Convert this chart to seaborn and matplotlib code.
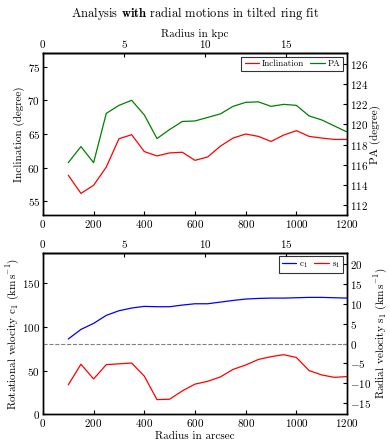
import matplotlib
matplotlib.use("Agg")
import matplotlib.pyplot as plt
import seaborn as sb
import pandas as pd
import numpy as np

# ring radii in arcsec
radius = [100, 150, 200, 250, 300, 350, 400, 450, 500, 550, 600, 650,
          700, 750, 800, 850, 900, 950, 1000, 1050, 1100, 1150, 1200]
inclination = [58.9, 56.2, 57.4, 60.1, 64.3, 64.9, 62.4, 61.75, 62.2, 62.3, 61.1, 61.6,
               63.2, 64.4, 65.0, 64.65, 63.9, 64.85, 65.5, 64.65, 64.4, 64.2, 64.2]
pa = [116.2, 117.8, 116.2, 121.1, 121.9, 122.4, 120.95, 118.6, 119.5, 120.3, 120.35, 120.7,
      121.05, 121.8, 122.2, 122.25, 121.8, 122.0, 121.9, 120.85, 120.45, 119.85, 119.25]
c1 = [86.3, 97.3, 104.2, 113.4, 118.7, 121.8, 123.7, 123.3, 123.3, 125.2, 126.7, 126.7,
      128.6, 130.5, 132.1, 132.8, 133.2, 133.2, 133.6, 134.0, 134.0, 133.6, 133.2]
s1 = [-10.4, -5.2, -8.9, -5.3, -5.1, -4.9, -8.2, -14.1, -14.0, -11.9, -10.2, -9.5,
      -8.4, -6.5, -5.4, -4.0, -3.3, -2.8, -3.5, -6.8, -7.9, -8.5, -8.3]

arcsecPerKpc = 64.0

sb.set_style("ticks", {"axes.edgecolor": "black", "text.color": "black",
                       "xtick.color": "black", "ytick.color": "black",
                       "axes.labelcolor": "black"})
plt.rcParams['font.family'] = 'serif'
plt.rcParams['font.serif'] = ['cmr10']
plt.rcParams['mathtext.fontset'] = 'cm'
plt.rcParams['axes.formatter.use_mathtext'] = True
plt.rcParams['axes.unicode_minus'] = True
plt.rcParams['xtick.direction'] = 'in'
plt.rcParams['ytick.direction'] = 'in'
plt.rcParams['font.size'] = 8
plt.rcParams['axes.linewidth'] = 1.0

df = pd.DataFrame({"radius": radius, "inc": inclination, "pa": pa, "c1": c1, "s1": s1})

fig = plt.figure(figsize=(3.9, 4.46), dpi=100)
ax1 = fig.add_axes([0.110, 0.518, 0.780, 0.363])
ax2 = fig.add_axes([0.110, 0.071, 0.780, 0.362])

def toKpc(x):
    return x / arcsecPerKpc

def toArcsec(x):
    return x * arcsecPerKpc

legendKw = dict(loc="upper right", ncol=2, fancybox=False, edgecolor="black", fontsize=6.5,
                handlelength=1.6, columnspacing=0.7, handletextpad=0.3, borderaxespad=0.4,
                borderpad=0.35)

# top panel: inclination and PA
sb.lineplot(data=df, x="radius", y="inc", ax=ax1, color="red", linewidth=0.9, label="Inclination", legend=False)
ax1b = ax1.twinx()
sb.lineplot(data=df, x="radius", y="pa", ax=ax1b, color="green", linewidth=0.9, label="PA", legend=False)
ax1.set_xlim(0, 1200)
ax1.set_ylim(53, 77)
ax1b.set_ylim(111, 127.1)
ax1.set_yticks([55, 60, 65, 70, 75])
ax1b.set_yticks(range(112, 127, 2))
ax1.set_xticks(range(0, 1201, 200))
ax1.set_xlabel("")
ax1.set_ylabel("Inclination (degree)", labelpad=2)
ax1b.set_ylabel("PA (degree)", labelpad=1)
top1 = ax1.secondary_xaxis('top', functions=(toKpc, toArcsec))
top1.set_xticks([0, 5, 10, 15])
top1.set_xlabel("Radius in kpc", labelpad=1)
top1.tick_params(direction='in', labelsize=8, length=3, pad=2)
h1, l1 = ax1.get_legend_handles_labels()
h2, l2 = ax1b.get_legend_handles_labels()
leg = ax1b.legend(h1 + h2, l1 + l2, **legendKw)
leg.get_frame().set_linewidth(0.8)
ax1.set_title(r"Analysis $\mathbf{with}$ radial motions in tilted ring fit", fontsize=9, pad=26)

# bottom panel: c1 and s1
sb.lineplot(data=df, x="radius", y="c1", ax=ax2, color="blue", linewidth=0.9, label=r"c$_1$", legend=False)
ax2b = ax2.twinx()
sb.lineplot(data=df, x="radius", y="s1", ax=ax2b, color="red", linewidth=0.9, label=r"s$_1$", legend=False)
ax2b.axhline(0, color="gray", linestyle="--", linewidth=0.8)
ax2.set_xlim(0, 1200)
ax2.set_ylim(0, 185)
ax2b.set_ylim(-17.8, 22.8)
ax2.set_yticks([0, 50, 100, 150])
ax2b.set_yticks(range(-15, 21, 5))
ax2.set_xticks(range(0, 1201, 200))
ax2.set_xlabel("Radius in arcsec", labelpad=2)
ax2.set_ylabel(r"Rotational velocity c$_1$ (km$\,$s$^{-1}$)", labelpad=1)
ax2b.set_ylabel(r"Radial velocity s$_1$ (km$\,$s$^{-1}$)", labelpad=1)
top2 = ax2.secondary_xaxis('top', functions=(toKpc, toArcsec))
top2.set_xticks([0, 5, 10, 15])
top2.tick_params(direction='in', labelsize=8, length=3, pad=2)
h1, l1 = ax2.get_legend_handles_labels()
h2, l2 = ax2b.get_legend_handles_labels()
leg2 = ax2b.legend(h1 + h2, l1 + l2, **legendKw)
leg2.get_frame().set_linewidth(0.8)

for a in [ax1, ax1b, ax2, ax2b]:
    a.tick_params(labelsize=8, length=3, pad=2)

fig.savefig("out.png", dpi=100)
